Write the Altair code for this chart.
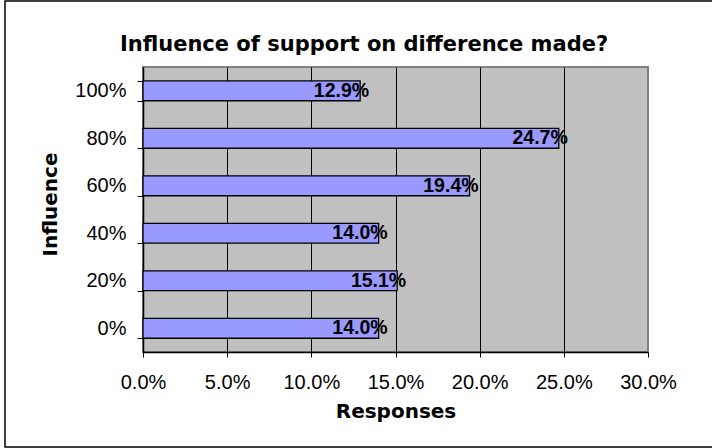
import altair as alt
import pandas as pd

# Share of responses for each level of influence
influence = ["100%", "80%", "60%", "40%", "20%", "0%"]
responses = [0.129, 0.247, 0.194, 0.140, 0.151, 0.140]
x_ticks = [0.0, 0.05, 0.10, 0.15, 0.20, 0.25, 0.30]
chart_title = "Influence of support on difference made?"

df = pd.DataFrame({"influence": influence, "responses": responses})
title_df = pd.DataFrame({"t": [chart_title]})

narrow = "Liberation Sans Narrow, Liberation Sans, Arial, sans-serif"
wide_bold = "DejaVu Sans, Verdana, sans-serif"

y_enc = alt.Y(
    "influence:N",
    sort=influence,
    scale=alt.Scale(paddingInner=0.58, paddingOuter=0.29),
    axis=alt.Axis(
        title="Influence",
        titleFont=wide_bold,
        titleFontWeight="bold",
        titleFontSize=20,
        titleColor="black",
        titleX=-87,
        titleY=137,
        titleBaseline="alphabetic",
        titleAngle=270,
        labelFont=narrow,
        labelFontSize=20,
        labelColor="black",
        labelPadding=11,
        labelOverlap=False,
        tickBand="extent",
        tickSize=6,
        tickColor="black",
        domainColor="black",
        domainWidth=1.5,
        grid=False,
    ),
)

x_enc = alt.X(
    "responses:Q",
    scale=alt.Scale(domain=[0, 0.3], nice=False, zero=True),
    axis=alt.Axis(
        title="Responses",
        titleFont=wide_bold,
        titleFontWeight="bold",
        titleFontSize=20,
        titleColor="black",
        titleY=65,
        titleBaseline="alphabetic",
        values=x_ticks,
        format=".1%",
        labelFont=narrow,
        labelFontSize=20,
        labelColor="black",
        labelPadding=15,
        labelOverlap=False,
        labelFlush=False,
        tickSize=5,
        tickColor="black",
        domainColor="black",
        domainWidth=1.5,
        grid=True,
        gridColor=alt.condition("datum.value >= 0.3", alt.value("#808080"), alt.value("black")),
        gridWidth=1,
    ),
)

bars = alt.Chart(df).mark_bar(
    color="#9999FF", stroke="black", strokeWidth=1.3
).encode(y=y_enc, x=x_enc)

labels = alt.Chart(df).mark_text(
    align="right",
    baseline="middle",
    dx=9,
    font=narrow,
    fontSize=19.5,
    fontWeight="bold",
    color="black",
).encode(
    y=alt.Y("influence:N", sort=influence),
    x=alt.X("responses:Q"),
    text=alt.Text("responses:Q", format=".1%"),
)

# Chart heading, set slightly left of the plot centre
heading = alt.Chart(title_df).mark_text(
    align="center",
    baseline="alphabetic",
    font=wide_bold,
    fontSize=21,
    fontWeight="bold",
    color="black",
).encode(text="t:N", x=alt.value(221), y=alt.value(-16))

# Outer frame around the whole chart
frame = alt.Chart(title_df).mark_rect(
    fill=None, stroke="black", strokeWidth=1.5
).encode(
    x=alt.value(-138), x2=alt.value(572), y=alt.value(-66), y2=alt.value(380)
)

chart = alt.layer(bars, labels, heading, frame).properties(
    width=505,
    height=285,
    padding={"left": 143, "top": 67, "right": 64, "bottom": 96},
    autosize=alt.AutoSizeParams(type="none"),
    background="white",
).configure_view(
    fill="#C0C0C0", stroke="#808080", strokeWidth=2
)

chart.save("out.html", embed_options={"renderer": "svg", "actions": False})
